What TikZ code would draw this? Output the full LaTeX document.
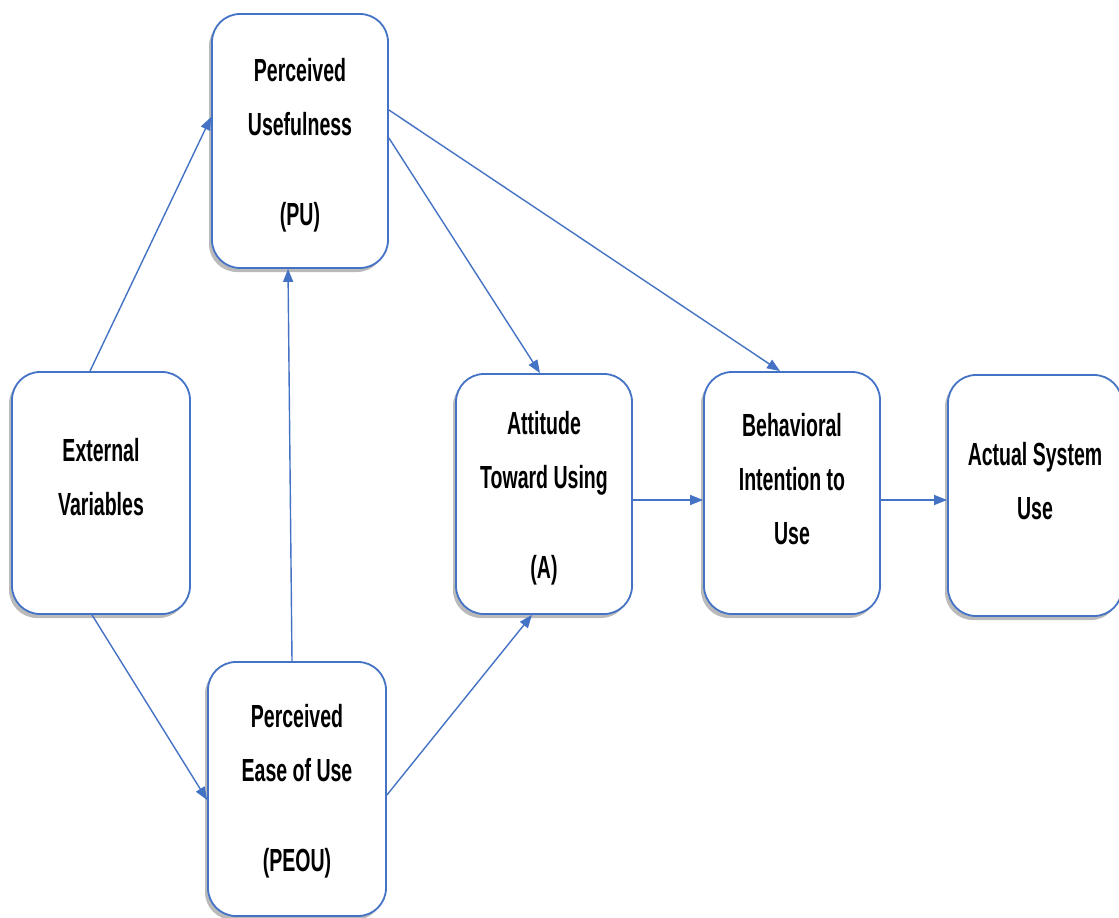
\documentclass[tikz,border=0pt]{standalone}
\usepackage{fontspec}
\setmainfont{Liberation Sans}[FakeStretch=0.61]
\usetikzlibrary{arrows.meta,shadows}
\definecolor{tamblue}{HTML}{4472C4}
\begin{document}
\begin{tikzpicture}[x=1pt,y=-1pt,
  box/.style={draw=tamblue, line width=1.8pt, fill=white, rounded corners=28pt,
    minimum width=176pt, inner sep=0pt,
    drop shadow={shadow xshift=-3pt, shadow yshift=-4pt, opacity=0.45, fill=black!60}},
  txt/.style={align=center, inner sep=0pt, font=\fontsize{32}{54}\selectfont\bfseries},
  arr/.style={draw=tamblue, line width=1.4pt, -{Triangle[length=13pt,width=10pt]}}]
\useasboundingbox (0,0) rectangle (1119,918);
% boxes
\node[box, minimum height=254pt] (pu) at (300,141) {};
\node[box, minimum height=242pt, minimum width=178pt] (ev) at (101,493) {};
\node[box, minimum height=240pt] (a) at (544,494) {};
\node[box, minimum height=242pt] (bi) at (792,493) {};
\node[box, minimum height=241pt, minimum width=174pt] (asu) at (1035,495.5) {};
\node[box, minimum height=254pt, minimum width=178pt] (peou) at (297,789) {};
% texts
\node[txt] (tpu) at (300,145) {Perceived\\Usefulness\\[36pt](PU)};
\node[txt] (tev) at (101,477.5) {External\\Variables};
\node[txt] (ta) at (544,498.5) {Attitude\\Toward Using\\[36pt](A)};
\node[txt] (tbi) at (792,479.5) {Behavioral\\Intention to\\Use};
\node[txt] (tasu) at (1035,481) {Actual System\\Use};
\node[txt] (tpeou) at (297,791) {Perceived\\Ease of Use\\[36pt](PEOU)};
% connectors
\draw[arr] ([xshift=-11pt]ev.north) -- ([yshift=24pt]pu.west);
\draw[arr] ([xshift=-9pt]ev.south) -- ([yshift=-11pt]peou.west);
\draw[arr] ([xshift=-5pt]peou.north) -- ([xshift=-12pt]pu.south);
\draw[arr] ([yshift=-6pt]peou.east) -- ([xshift=-12pt]a.south);
\draw[arr] ([yshift=3pt]pu.east) -- ([xshift=-4pt]a.north);
\draw[arr] ([yshift=31pt]pu.east) -- ([xshift=-12pt]bi.north);
\draw[arr] ([yshift=-6pt]a.east) -- ([yshift=-6pt]a.east -| bi.west);
\draw[arr] ([yshift=-7pt]bi.east) -- ([yshift=-7pt]bi.east -| asu.west);
\end{tikzpicture}
\end{document}
